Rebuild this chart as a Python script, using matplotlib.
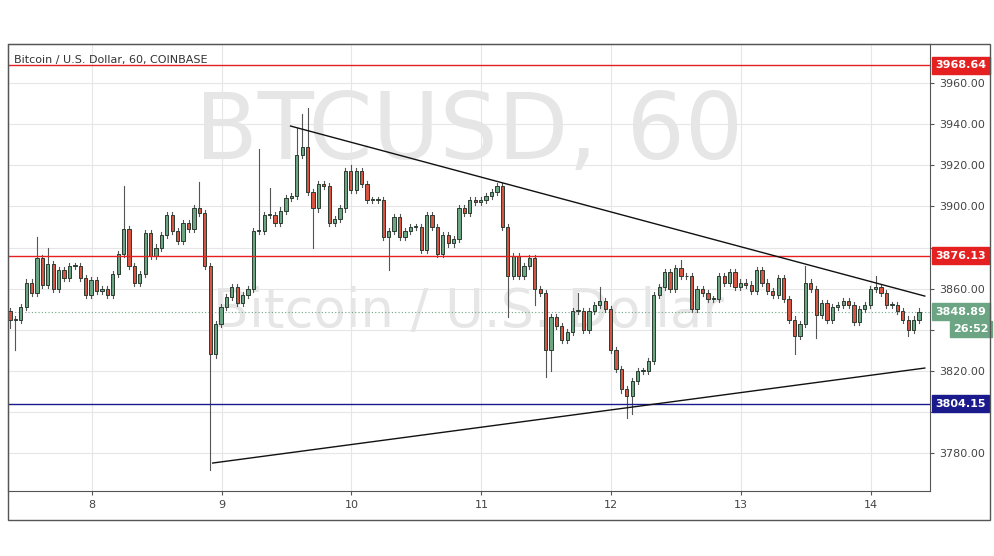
import matplotlib
matplotlib.use("Agg")
import matplotlib.pyplot as plt
from matplotlib.patches import Rectangle

closes = [3845,3845,3851,3863,3858,3875,3862,3872,3860,3869,3865,3871,3871,3865,3857,3864,3859,3860,3857,3867,
          3877,3889,3871,3863,3867,3887,3876,3880,3886,3896,3888,3883,3892,3889,3899,3897,3871,3828,3843,3851,
          3856,3861,3853,3857,3860,3888,3888,3896,3896,3892,3898,3904,3905,3925,3929,3907,3899,3911,3910,3892,
          3894,3899,3917,3908,3917,3911,3903,3903,3903,3885,3888,3895,3885,3888,3890,3890,3879,3896,3890,3877,
          3886,3882,3884,3899,3897,3903,3902,3903,3905,3907,3910,3890,3866,3876,3866,3871,3875,3860,3858,3830,
          3846,3842,3835,3839,3849,3849,3840,3849,3852,3854,3850,3830,3821,3811,3808,3815,3820,3820,3825,3857,
          3861,3868,3860,3870,3866,3866,3850,3860,3858,3855,3855,3866,3863,3868,3861,3863,3862,3859,3869,3863,
          3859,3857,3865,3855,3845,3837,3843,3863,3860,3847,3853,3845,3851,3852,3854,3852,3844,3850,3852,3860,
          3861,3858,3852,3852,3849,3845,3840,3845,3848.89]
first_open = 3849
wick_high = {5: 3885, 7: 3880, 21: 3910, 35: 3912, 46: 3928, 48: 3909, 53: 3938, 54: 3945, 55: 3948,
             63: 3920, 105: 3858, 109: 3861, 124: 3874, 147: 3871, 160: 3866}
wick_low = {0: 3841, 1: 3830, 37: 3772, 56: 3880, 70: 3869, 92: 3846, 97: 3852, 99: 3817, 100: 3820,
            114: 3797, 115: 3799, 145: 3828, 149: 3836, 166: 3837}
start_day = 7.37
levels = [(3968.64, "#e52020"), (3876.13, "#e52020"), (3804.15, "#1a1a8c")]
upper_line = ([9.531, 14.415], [3939.1, 3856.4])
lower_line = ([8.931, 14.415], [3775.2, 3821.4])
yticks = [3780, 3800, 3820, 3840, 3860, 3880, 3900, 3920, 3940, 3960]
hidden_ticks = [3800, 3840, 3880]
xticks = [8, 9, 10, 11, 12, 13, 14]

fig = plt.figure(figsize=(9.95, 5.56), dpi=100)
ax = fig.add_axes([8/995, 65/556, 922/995, 447/556])
ax.set_xlim(7.355, 14.455)
ax.set_ylim(3761.6, 3979)
ax.grid(True, color="#e6e6e6", lw=0.8)
ax.set_axisbelow(True)

green, red = "#6ba583", "#d75442"
w = 0.6/24
prev = first_open
for i, c in enumerate(closes):
    o = prev
    x = start_day + i/24
    hi = wick_high.get(i, max(o, c) + 1.5)
    lo = wick_low.get(i, min(o, c) - 1.5)
    col = green if c >= o else red
    ax.plot([x, x], [lo, hi], color="#555555", lw=0.8, zorder=2)
    h = abs(c - o) if abs(c - o) > 0.4 else 0.4
    ax.add_patch(Rectangle((x - w/2, min(o, c)), w, h, facecolor=col, edgecolor="#2b3b30", lw=0.7, zorder=3))
    prev = c

for lv, col in levels:
    ax.axhline(lv, color=col, lw=1, zorder=4)
ax.axhline(closes[-1], color="#6ba583", lw=0.8, ls=(0, (1, 2)), zorder=1)
ax.plot(*upper_line, color="#111111", lw=1, zorder=5)
ax.plot(*lower_line, color="#111111", lw=1, zorder=5)

ax.text(0.5, 0.80, "BTCUSD, 60", transform=ax.transAxes, ha="center", va="center",
        fontsize=66, color="#dcdcdc", alpha=0.7, zorder=0)
ax.text(0.5, 0.40, "Bitcoin / U.S. Dollar", transform=ax.transAxes, ha="center", va="center",
        fontsize=38, color="#dcdcdc", alpha=0.7, zorder=0)
ax.text(0.007, 0.975, "Bitcoin / U.S. Dollar, 60, COINBASE", transform=ax.transAxes, ha="left", va="top",
        fontsize=8, color="#333333")

ax.yaxis.tick_right()
ax.set_yticks(yticks)
ax.set_yticklabels(["" if v in hidden_ticks else f"{v:.2f}" for v in yticks], fontsize=8, color="#444444")
ax.set_xticks(xticks)
ax.set_xticklabels([str(v) for v in xticks], fontsize=8, color="#444444")
ax.tick_params(length=3, color="#555555")
for s in ax.spines.values():
    s.set_color("#555555")

tags = [(3968.64, "3968.64", "#e52020"), (3876.13, "3876.13", "#e52020"),
        (3804.15, "3804.15", "#1a1a8c"), (closes[-1], f"{closes[-1]:.2f}", "#6ba583")]
for v, t, col in tags:
    ax.text(1.006, v, t, transform=ax.get_yaxis_transform(), ha="left", va="center", fontsize=8,
            color="white", fontweight="bold",
            bbox=dict(boxstyle="square,pad=0.3", fc=col, ec=col))
ax.text(1.025, closes[-1] - 8.5, "26:52", transform=ax.get_yaxis_transform(), ha="left", va="center",
        fontsize=8, color="white", fontweight="bold",
        bbox=dict(boxstyle="square,pad=0.3", fc="#6ba583", ec="#6ba583"))

fig.patches.append(Rectangle((8/995, 36/556), 982/995, 476/556, transform=fig.transFigure,
                             fill=False, ec="#555555", lw=1))
fig.savefig("out.png", dpi=100)
